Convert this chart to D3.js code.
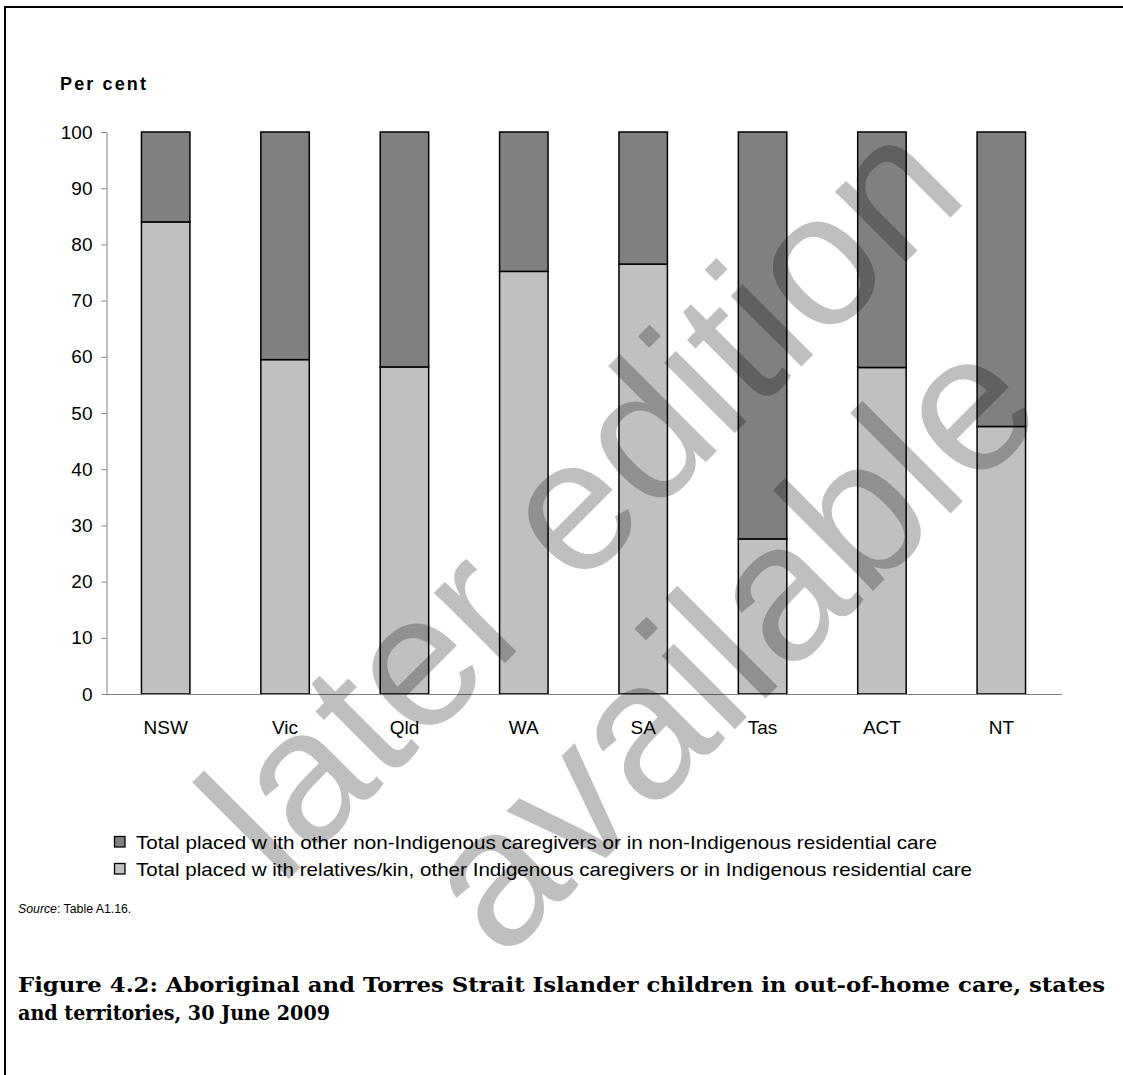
<!DOCTYPE html>
<html>
<head>
<meta charset="utf-8">
<script src="https://cdn.jsdelivr.net/npm/d3@7"></script>
<style>
  html, body { margin: 0; padding: 0; background: #fff; }
  svg { display: block; }
</style>
</head>
<body>
<svg id="chart" width="1123" height="1075"></svg>
<script>
// ---- Data ----
const categories = ["NSW", "Vic", "Qld", "WA", "SA", "Tas", "ACT", "NT"];
const indigenousCare = [84.0, 59.5, 58.2, 75.2, 76.5, 27.6, 58.1, 47.6];
const nonIndigenousCare = [16.0, 40.5, 41.8, 24.8, 23.5, 72.4, 41.9, 52.4];
const yTicks = [0, 10, 20, 30, 40, 50, 60, 70, 80, 90, 100];
const seriesKeys = ["indigenous", "nonIndigenous"];
const legendLabels = [
  "Total placed w ith other non-Indigenous caregivers or in non-Indigenous residential care",
  "Total placed w ith relatives/kin, other Indigenous caregivers or in Indigenous residential care"
];
const yAxisTitle = "Per cent";
const sourceLabel = "Source";
const sourceRest = ": Table A1.16.";
const titleLines = [
  "Figure 4.2: Aboriginal and Torres Strait Islander children in out-of-home care, states",
  "and territories, 30 June 2009"
];
const watermarkLines = ["later edition", "available"];

// ---- Build table ----
const table = categories.map((c, i) => ({
  cat: c,
  indigenous: indigenousCare[i],
  nonIndigenous: nonIndigenousCare[i]
}));

const colors = { indigenous: "#c0c0c0", nonIndigenous: "#808080" };
const sansFont = "Liberation Sans, Arial, Helvetica, sans-serif";

const svg = d3.select("#chart");

// Frame
svg.append("line").attr("x1", 5).attr("x2", 1123).attr("y1", 7).attr("y2", 7)
  .attr("stroke", "#000").attr("stroke-width", 2);
svg.append("line").attr("x1", 5).attr("x2", 5).attr("y1", 6).attr("y2", 1075)
  .attr("stroke", "#000").attr("stroke-width", 2);

// Scales
const x = d3.scaleBand().domain(categories).range([106, 1061])
  .paddingInner(0.594).paddingOuter(0.297);
const y = d3.scaleLinear().domain([0, 100]).range([694, 132]);

// Stack
const stack = d3.stack().keys(seriesKeys);
const stacked = stack(table);

const gBars = svg.append("g");
gBars.selectAll("g.series").data(stacked).join("g")
  .attr("class", "series")
  .attr("fill", d => colors[d.key])
  .selectAll("rect").data(d => d).join("rect")
  .attr("x", d => x(d.data.cat))
  .attr("width", x.bandwidth())
  .attr("y", d => y(d[1]))
  .attr("height", d => y(d[0]) - y(d[1]))
  .attr("stroke", "#000")
  .attr("stroke-width", 1.5);

// Y axis
const yAxis = d3.axisLeft(y).tickValues(yTicks).tickSize(5).tickPadding(9);
const gy = svg.append("g").attr("transform", "translate(106.5,0)").call(yAxis);
gy.select(".domain").attr("stroke", "#808080").attr("d", "M-5,132.5H0.5V694.5");
gy.selectAll(".tick line").attr("stroke", "#808080");
gy.selectAll(".tick text").attr("font-family", sansFont).attr("font-size", 19).attr("fill", "#000");

// X axis
const xAxis = d3.axisBottom(x).tickSize(0).tickPadding(26);
const gx = svg.append("g").attr("transform", "translate(0,694.5)").call(xAxis);
gx.select(".domain").attr("stroke", "#808080").attr("d", "M106,0H1062");
gx.selectAll(".tick text").attr("font-family", sansFont).attr("font-size", 19).attr("fill", "#000");

// Y axis title
svg.append("text").attr("x", 60).attr("y", 90)
  .attr("font-family", sansFont).attr("font-weight", "bold").attr("font-size", 18)
  .attr("textLength", 86).attr("lengthAdjust", "spacing")
  .text(yAxisTitle);

// Legend
const legendKeysOrder = ["nonIndigenous", "indigenous"];
const legendG = svg.append("g");
legendKeysOrder.forEach((k, i) => {
  const cy = 842 + i * 27;
  legendG.append("rect").attr("x", 114.5).attr("y", cy - 5.5).attr("width", 10.5).attr("height", 10.5)
    .attr("fill", colors[k]).attr("stroke", "#000").attr("stroke-width", 1.3);
  legendG.append("text").attr("x", 136).attr("y", cy + 6.5)
    .attr("font-family", sansFont).attr("font-size", 19)
    .attr("textLength", i === 0 ? 801 : 836).attr("lengthAdjust", "spacingAndGlyphs")
    .text(legendLabels[i]);
});

// Source
const src = svg.append("text").attr("x", 18).attr("y", 913)
  .attr("font-family", sansFont).attr("font-size", 12.3);
src.append("tspan").attr("font-style", "italic").text(sourceLabel);
src.append("tspan").text(sourceRest);

// Title
const titleFont = "'Palatino Linotype', 'Book Antiqua', Palatino, 'DejaVu Serif', serif";
svg.append("text").attr("x", 18).attr("y", 992)
  .attr("font-family", titleFont).attr("font-weight", "bold").attr("font-size", 21)
  .attr("textLength", 1087).attr("lengthAdjust", "spacingAndGlyphs")
  .text(titleLines[0]);
svg.append("text").attr("x", 18).attr("y", 1020)
  .attr("font-family", titleFont).attr("font-weight", "bold").attr("font-size", 21)
  .attr("textLength", 312).attr("lengthAdjust", "spacingAndGlyphs")
  .text(titleLines[1]);

// Watermark
const wm = svg.append("g").attr("pointer-events", "none");
wm.append("text").attr("transform", "translate(280,888) rotate(-45)")
  .attr("font-family", sansFont).attr("font-size", 189)
  .attr("fill", "#000").attr("fill-opacity", 0.25)
  .text(watermarkLines[0]);
wm.append("text").attr("transform", "translate(502,962) rotate(-45)")
  .attr("font-family", sansFont).attr("font-size", 196)
  .attr("fill", "#000").attr("fill-opacity", 0.25)
  .text(watermarkLines[1]);
</script>
</body>
</html>
